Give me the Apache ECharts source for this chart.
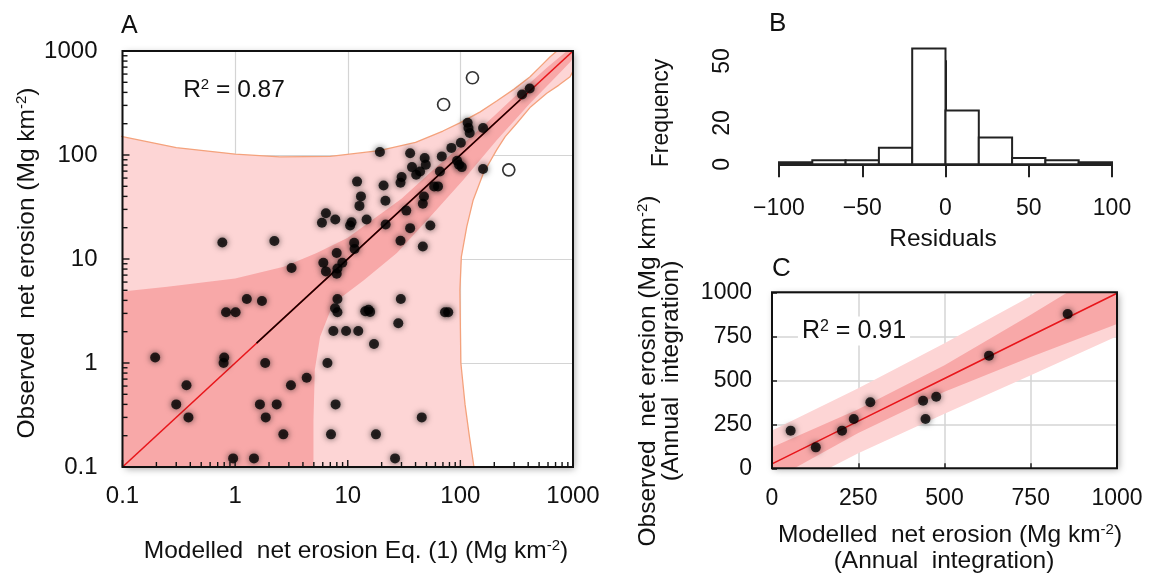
<!DOCTYPE html>
<html><head><meta charset="utf-8">
<script src="https://cdn.jsdelivr.net/npm/echarts@6/dist/echarts.min.js"></script>
<style>html,body{margin:0;padding:0;background:#fff}#c{width:1149px;height:578px}</style>
</head><body><div id="c"></div>
<script>
// ---------- Panel A data (modelled vs observed, log-log) ----------
const modelledA = [0.77,2.23,3.17,5.9,6.4,7.75,10.5,10.8,12.1,13.1,12.7,14.7,19.3,20.8,21.6,21.7,29.4,30.1,33.1,35.8,37.2,35.8,29.4,40.5,43.9,48.2,49.3,47.5,46.4,46.4,54.1,58.5,63.3,65.8,68.4,83.2,93.5,101,97.3,103,116,118,121,159,159,353,413,
  6.07,7.98,6.4,7.98,8.1,8.95,11.4,11.5,
  1.27,1.73,8.1,29.6,
  0.83,1.01,7.71,8.1,7.45,9.66,12.4,17.1,14.3,15.3,15.8,73,78,28.1,0.195,0.80,0.79,1.85,6.6,4.32,3.13,0.37,0.30,0.385,1.66,2.34,1.87,2.68,7.1,7.8,0.96,1.47,26.3,17.8,45.4];
const observedA = [14.4,14.9,8.2,22.3,27.5,24,21,22.6,55.5,40,32.4,24,107,51,36.3,21.5,54,61.4,29.2,104,76.5,19.8,15,64.6,69.5,93.5,80.7,39.9,34,13.2,21,49.9,49.9,69.5,97,117,88,131,80.7,76.5,204,182,163,182,73.3,382,436,
  9.2,11.4,7.6,7.2,8.1,9.2,14.3,12.5,
  4.12,3.95,4.12,4.12,
  3.07,3.07,3.36,3.07,2.03,2.03,2.03,1.52,3.15,3.25,3.1,3.07,3.07,2.41,1.13,1.13,1.0,1.0,1.0,0.72,0.61,0.61,0.40,0.30,0.40,0.40,0.30,0.206,0.206,0.40,0.121,0.121,0.121,0.206,0.30];
const outlierModelledA = [71, 128, 269];
const outlierObservedA = [306, 553, 72];
const logTickLabels = ['0.1','1','10','100','1000'];
const logTickValuesA = [0.1,0.2,0.3,0.4,0.5,0.6,0.7,0.8,0.9,1,2,3,4,5,6,7,8,9,10,20,30,40,50,60,70,80,90,100,200,300,400,500,600,700,800,900,1000];
const fitA_x = [0.1, 1000];
const fitA_y = [0.1, 1000];
const fitDataRangeA_x = [1.55, 340];
const fitDataRangeA_y = [1.55, 340];
// prediction band (light) boundaries
const predUpperA_x = [0.05,0.1,0.3,1,2.5,7,19,40,70,100,150,210,300,416,520,627,720,1000];
const predUpperA_y = [170,150,118,102,96,97,110,132,170,205,260,330,430,566,720,881,1000,1500];
const predLowerA_x = [1000,942,750,585,420,317,250,210,160,130,114,102,99,101,110,120,132];
const predLowerA_y = [640,566,470,392,290,202,150,112,66.7,37,20.5,10.5,5,1,0.4,0.2,0.1];
// confidence band (dark) boundaries
const confUpperA_x = [0.05,0.1,0.25,1,2.7,5.3,10,19.4,30,54,106,200,296,585,1000];
const confUpperA_y = [4.7,4.86,5.4,6.5,8.4,11.4,16,27,38,68,128,238,355,690,1120];
const confLowerA_x = [1000,950,700,416,210,106,54,27.3,13.8,7.45,5.68,5.1,4.96,4.96];
const confLowerA_y = [860,789,560,314,139,57.5,25.5,11.4,6.2,3.75,1.79,0.86,0.28,0.1];

// ---------- Panel B data (histogram of residuals) ----------
const residualBinEdges = [-100,-80,-60,-40,-20,0,20,40,60,80,100];
const residualCounts = [1,2,2,8,56,26,13,3,2,1];
const residualTickValues = [-100,-50,0,50,100];
const residualTickLabels = ['\u2212100','\u221250','0','50','100'];
const freqTickValues = [0,10,20,30,40,50];
const freqTickLabels = ['0','','20','','','50'];

// ---------- Panel C data (annual integration) ----------
const modelledC = [54,127,203,237,285,438,445,476,629,857];
const observedC = [214,119,214,280,375,384,280,407,640,877];
const linTickLabelsC = ['0','250','500','750','1000'];
const bandC_x = [0,250,500,750,1000];
const fitC_y = [25,268,510,753,995];
const confLowC = [-70,200,435,633,820];
const confHighC = [120,336,585,873,1170];
const predLowC = [-165,85,310,528,750];
const predHighC = [215,455,710,978,1240];

// ---------- helpers ----------
const FONT = 'Liberation Sans, Arial, sans-serif';
const zip = (a, b) => a.map((v, i) => [v, b[i]]);
const LIGHT = '#fdd5d5', DARK = '#f8a8a8', ORANGE = '#f4a27c', RED = '#e8161b';

function polygonSeries(xi, yi, pts, fill, z) {
  return {
    type: 'custom', xAxisIndex: xi, yAxisIndex: yi, clip: true, silent: true, z: z,
    data: [pts[0]],
    renderItem: function (params, api) {
      return { type: 'polygon', shape: { points: pts.map(p => api.coord(p)) },
               style: { fill: fill, stroke: 'none' } };
    }
  };
}
const predPolyA = zip(predUpperA_x, predUpperA_y)
  .concat(zip(predLowerA_x, predLowerA_y))
  .concat([[132, 0.05], [0.05, 0.05]]);
const confPolyA = zip(confUpperA_x, confUpperA_y)
  .concat(zip(confLowerA_x, confLowerA_y))
  .concat([[4.96, 0.05], [0.05, 0.05]]);
const predPolyC = zip(bandC_x, predHighC).concat(zip(bandC_x, predLowC).reverse());
const confPolyC = zip(bandC_x, confHighC).concat(zip(bandC_x, confLowC).reverse());

function txt(x, y, text, size, opts) {
  opts = opts || {};
  const supSize = Math.round(size * 0.62);
  return {
    type: 'text', x: x, y: y, rotation: opts.rot || 0, z: 200, silent: true,
    style: Object.assign({
      text: text, fontSize: size, fontFamily: FONT, fill: '#111',
      align: opts.align || 'center', verticalAlign: 'middle',
      textAlign: opts.align || 'center', textVerticalAlign: 'middle',
      rich: { n: { fontSize: size, fontFamily: FONT, fill: '#111' },
              s: { fontSize: supSize, verticalAlign: 'top', fontFamily: FONT, fill: '#111', lineHeight: supSize + 2 } }
    }, opts.style || {})
  };
}

const gridShadow = { show: true, backgroundColor: '#fff', borderWidth: 0,
  shadowBlur: 7, shadowColor: 'rgba(0,0,0,0.35)', shadowOffsetX: 2, shadowOffsetY: 2 };

const logAxis = (gi, isX) => ({
  type: 'log', logBase: 10, min: 0.1, max: 1000, gridIndex: gi,
  axisLine: { show: false }, axisTick: { show: false },
  splitLine: { show: true, lineStyle: { color: '#d4d4d4', width: 1.2 } },
  minorSplitLine: { show: false },
  axisLabel: { fontSize: 24, color: '#111', fontFamily: FONT, margin: isX ? 17 : 25,
    formatter: v => logTickLabels[Math.round(Math.log10(v)) + 1] }
});

const option = {
  animation: false,
  textStyle: { fontFamily: FONT },
  grid: [
    Object.assign({ left: 122.5, top: 51, width: 450.5, height: 416 }, gridShadow),
    { left: 779, top: 61, width: 333, height: 103.3, show: false },
    Object.assign({ left: 772, top: 292.3, width: 345, height: 176 }, gridShadow)
  ],
  xAxis: [
    logAxis(0, true),
    { type: 'value', gridIndex: 1, min: -100, max: 100, interval: 50, offset: 5,
      axisLine: { show: true, lineStyle: { color: '#222', width: 2 } },
      axisTick: { show: true, length: 13, lineStyle: { color: '#222', width: 2 } },
      splitLine: { show: false },
      axisLabel: { fontSize: 23, color: '#111', fontFamily: FONT, margin: 28,
        formatter: v => residualTickLabels[residualTickValues.indexOf(v)] } },
    { type: 'value', gridIndex: 2, min: 0, max: 1000, interval: 250,
      axisLine: { show: false },
      axisTick: { show: true, inside: true, length: 5, lineStyle: { color: '#222', width: 1.5 } },
      splitLine: { show: true, lineStyle: { color: '#d4d4d4', width: 1.5 } },
      axisLabel: { fontSize: 23, color: '#111', fontFamily: FONT, margin: 19,
        formatter: v => linTickLabelsC[Math.round(v / 250)] } }
  ],
  yAxis: [
    logAxis(0, false),
    { type: 'value', gridIndex: 1, min: 0, max: 50, interval: 10, offset: 12,
      axisLine: { show: true, lineStyle: { color: '#222', width: 2 } },
      axisTick: { show: true, length: 10, lineStyle: { color: '#222', width: 2 } },
      splitLine: { show: false },
      axisLabel: { fontSize: 23, color: '#111', fontFamily: FONT, margin: 33, rotate: 90,
        formatter: v => freqTickLabels[freqTickValues.indexOf(v)] } },
    { type: 'value', gridIndex: 2, min: 0, max: 1000, interval: 250,
      axisLine: { show: false },
      axisTick: { show: true, inside: true, length: 5, lineStyle: { color: '#222', width: 1.5 } },
      splitLine: { show: true, lineStyle: { color: '#d4d4d4', width: 1.5 } },
      axisLabel: { fontSize: 23, color: '#111', fontFamily: FONT, margin: 20,
        formatter: v => linTickLabelsC[Math.round(v / 250)] } }
  ],
  series: [
    // ---- Panel A ----
    polygonSeries(0, 0, predPolyA, LIGHT, 1),
    polygonSeries(0, 0, confPolyA, DARK, 1),
    { type: 'line', xAxisIndex: 0, yAxisIndex: 0, data: zip(predUpperA_x, predUpperA_y), symbol: 'none',
      lineStyle: { color: ORANGE, width: 1.3 }, z: 2, silent: true },
    { type: 'line', xAxisIndex: 0, yAxisIndex: 0, data: zip(predLowerA_x, predLowerA_y), symbol: 'none',
      lineStyle: { color: ORANGE, width: 1.3 }, z: 2, silent: true },
    { type: 'line', xAxisIndex: 0, yAxisIndex: 0, data: zip(fitA_x, fitA_y), symbol: 'none',
      lineStyle: { color: RED, width: 1.6 }, z: 3, silent: true },
    { type: 'line', xAxisIndex: 0, yAxisIndex: 0, data: zip(fitDataRangeA_x, fitDataRangeA_y), symbol: 'none',
      lineStyle: { color: '#1a0000', width: 1.6 }, z: 3, silent: true },
    { type: 'scatter', xAxisIndex: 0, yAxisIndex: 0, data: zip(modelledA, observedA), symbolSize: 10,
      itemStyle: { color: '#000', shadowBlur: 6, shadowColor: 'rgba(0,0,0,0.75)' }, z: 4, silent: true },
    { type: 'scatter', xAxisIndex: 0, yAxisIndex: 0, data: zip(outlierModelledA, outlierObservedA), symbolSize: 12,
      itemStyle: { color: '#fff', borderColor: '#000', borderWidth: 1.7 }, z: 4, silent: true },
    { type: 'custom', xAxisIndex: 0, yAxisIndex: 0, clip: false, silent: true, z: 6,
      data: logTickValuesA.map(v => [v, v]),
      renderItem: function (params, api) {
        const v = api.value(0);
        const major = logTickLabels.indexOf(String(v)) >= 0;
        const len = major ? 7 : 5;
        const b = api.coord([v, 0.1]);
        const l = api.coord([0.1, v]);
        return { type: 'group', children: [
          { type: 'line', shape: { x1: b[0], y1: b[1], x2: b[0], y2: b[1] - len }, style: { stroke: '#111', lineWidth: 1.4 } },
          { type: 'line', shape: { x1: l[0], y1: l[1], x2: l[0] + len, y2: l[1] }, style: { stroke: '#111', lineWidth: 1.4 } }
        ] };
      } },
    // ---- Panel B ----
    { type: 'custom', xAxisIndex: 1, yAxisIndex: 1, clip: false, silent: true, z: 3,
      data: residualCounts.map((c, i) => [residualBinEdges[i], residualBinEdges[i + 1], c]),
      renderItem: function (params, api) {
        const p0 = api.coord([api.value(0), api.value(2)]);
        const p1 = api.coord([api.value(1), 0]);
        return { type: 'rect', shape: { x: p0[0], y: p0[1], width: p1[0] - p0[0], height: p1[1] - p0[1] },
                 style: { fill: '#fff', stroke: '#222', lineWidth: 2 } };
      } },
    // ---- Panel C ----
    polygonSeries(2, 2, predPolyC, LIGHT, 1),
    polygonSeries(2, 2, confPolyC, DARK, 1),
    { type: 'line', xAxisIndex: 2, yAxisIndex: 2, data: zip(bandC_x, fitC_y), symbol: 'none',
      lineStyle: { color: RED, width: 1.6 }, z: 3, silent: true },
    { type: 'scatter', xAxisIndex: 2, yAxisIndex: 2, data: zip(modelledC, observedC), symbolSize: 10,
      itemStyle: { color: '#000', shadowBlur: 6, shadowColor: 'rgba(0,0,0,0.75)' }, z: 4, silent: true }
  ],
  graphic: [
    { type: 'rect', z: 150, silent: true, shape: { x: 122.5, y: 51, width: 450.5, height: 416 },
      style: { fill: 'none', stroke: '#111', lineWidth: 2 } },
    { type: 'rect', z: 150, silent: true, shape: { x: 772, y: 292.3, width: 345, height: 176 },
      style: { fill: 'none', stroke: '#111', lineWidth: 2 } },
    txt(121, 26, 'A', 25, { align: 'left' }),
    txt(769, 24, 'B', 26, { align: 'left' }),
    txt(772, 269, 'C', 26, { align: 'left' }),
    txt(234, 90, '{n|R}{s|2}{n| = 0.87}', 24.5),
    txt(854, 331, '{n|R}{s|2}{n| = 0.91}', 25, { style: { backgroundColor: '#fff', padding: [2, 4, 2, 4] } }),
    txt(356, 551, '{n|Modelled  net erosion Eq. (1) (Mg km}{s|-2}{n|)}', 24.5),
    txt(27, 263, '{n|Observed  net erosion (Mg km}{s|-2}{n|)}', 24.5, { rot: Math.PI / 2 }),
    txt(662, 113, 'Frequency', 23, { rot: Math.PI / 2 }),
    txt(943, 239, 'Residuals', 24.5),
    txt(950, 535, '{n|Modelled  net erosion (Mg km}{s|-2}{n|)}', 24.5),
    txt(944, 561, '(Annual  integration)', 24.5),
    txt(648, 371, '{n|Observed  net erosion (Mg km}{s|-2}{n|)}', 24.5, { rot: Math.PI / 2 }),
    txt(671.5, 371, '(Annual  integration)', 24.5, { rot: Math.PI / 2 })
  ]
};
const chart = echarts.init(document.getElementById('c'), null, { renderer: 'canvas' });
chart.setOption(option);
</script></body></html>
